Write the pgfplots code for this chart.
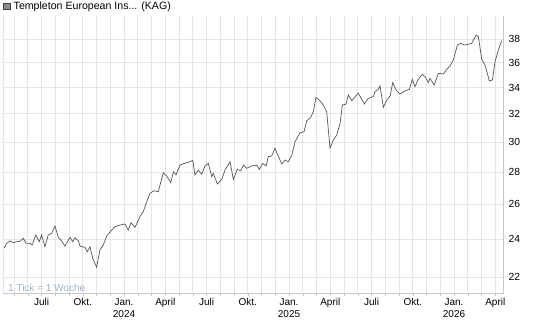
\documentclass[border=0pt]{standalone}
\usepackage{pgfplots}
\pgfplotsset{compat=1.18}
\usepackage{fontspec}
\setmainfont{Liberation Sans}
\definecolor{gridc}{RGB}{230,230,230}
\definecolor{axc}{RGB}{200,200,200}
\definecolor{linec}{RGB}{85,85,85}
\definecolor{notec}{RGB}{160,178,200}
\begin{document}
\fontsize{10bp}{12bp}\selectfont
\begin{tikzpicture}
\begin{axis}[
  name=ax, at={(0,0)}, anchor=south west,
  scale only axis, width=500bp, height=277bp,
  ymode=log, xmin=-8.8, xmax=27.56, ymin=21.21, ymax=40.06,
  axis line style={draw=none},
  xtick={-6,-3,0,3,6,9,12,15,18,21,24,27},
  xticklabels={Juli,Okt.,{Jan.\\2024},April,Juli,Okt.,{Jan.\\2025},April,Juli,Okt.,{Jan.\\2026},April},
  minor xtick={-8,...,27},
  xticklabel style={align=center, font=\fontsize{10bp}{12bp}\selectfont, yshift=1bp},
  xtick pos=left, ytick pos=right,
  tick align=outside,
  major tick length=3bp, minor tick length=3bp,
  every tick/.style={axc},
  ytick={22,24,26,28,30,32,34,36,38},
  yticklabels={22,24,26,28,30,32,34,36,38},
  yticklabel pos=right,
  ytick style={draw=none},
  yticklabel style={anchor=west, xshift=-1bp, font=\fontsize{10.3bp}{12bp}\selectfont},
  xmajorgrids, xminorgrids, ymajorgrids,
  major grid style={gridc, line width=0.8bp},
  minor grid style={gridc, line width=0.8bp},
  clip=false,
]
\addplot[linec, line width=0.7bp] table {
x y
-8.73 23.50
-8.53 23.77
-8.29 23.91
-8.05 23.80
-7.80 23.86
-7.56 23.88
-7.32 24.05
-7.13 23.77
-6.84 23.77
-6.67 23.68
-6.42 24.23
-6.16 23.86
-5.99 24.23
-5.75 23.59
-5.51 24.23
-5.26 24.32
-5.02 24.73
-4.78 24.10
-4.58 23.95
-4.29 23.62
-3.93 24.10
-3.73 23.86
-3.56 24.08
-3.32 23.91
-3.20 23.62
-2.84 23.55
-2.67 23.32
-2.47 23.59
-2.28 22.97
-1.99 22.50
-1.75 23.41
-1.51 23.68
-1.26 24.17
-0.89 24.51
-0.65 24.70
-0.29 24.79
0.07 24.85
0.31 24.51
0.51 24.92
0.80 24.66
1.16 25.27
1.40 25.56
1.65 26.15
1.89 26.66
2.18 26.82
2.49 26.76
2.86 27.95
3.11 27.74
3.40 27.32
3.59 28.02
3.78 27.81
4.07 28.45
4.44 28.58
4.73 28.65
5.00 28.76
5.16 27.81
5.40 28.11
5.65 27.85
5.89 28.39
6.13 28.56
6.38 27.70
6.49 27.92
6.79 27.24
7.11 27.53
7.35 28.13
7.71 28.67
7.95 27.53
8.24 28.17
8.49 28.08
8.68 28.45
8.92 28.24
9.29 28.39
9.65 28.45
9.84 28.17
10.09 28.56
10.33 28.39
10.49 29.00
10.74 29.05
10.98 29.57
11.15 29.18
11.47 28.52
11.71 28.78
11.95 28.67
12.20 29.11
12.44 30.02
12.80 30.64
13.09 30.71
13.29 31.50
13.58 31.75
13.77 32.16
13.96 33.24
14.25 32.98
14.49 32.66
14.74 32.16
14.98 29.57
15.22 30.14
15.47 30.48
15.71 31.31
15.88 32.66
16.15 32.73
16.31 33.42
16.56 32.98
17.04 33.55
17.48 32.73
17.77 33.16
18.13 33.29
18.25 33.67
18.49 33.86
18.62 34.11
18.86 32.49
19.11 33.04
19.35 33.34
19.54 34.38
19.78 33.80
20.07 33.49
20.44 33.73
20.75 33.86
20.97 34.64
21.16 34.06
21.40 34.64
21.69 35.04
21.89 34.85
22.13 34.38
22.25 34.72
22.55 34.19
22.86 35.12
23.22 35.07
23.47 35.45
23.71 35.72
23.95 36.21
24.24 37.48
24.49 37.63
24.73 37.48
25.04 37.54
25.29 37.63
25.60 38.35
25.77 38.21
26.01 36.27
26.25 35.80
26.57 34.51
26.79 34.59
26.98 36.07
27.22 37.05
27.47 37.86
};
\end{axis}
\draw[gridc, line width=0.8bp] (0,0) -- (0,277bp);
\draw[axc, line width=0.8bp] (0,0) -- (500bp,0) -- (500bp,277bp);
\node[anchor=west, inner sep=0pt, text=notec] at (5bp,5bp) {1 Tick = 1 Woche};
\draw[black!75, fill=black!45, line width=0.5bp] (0.5bp,283.5bp) rectangle (7bp,290bp);
\node[anchor=west, inner sep=0pt, font=\fontsize{10.6bp}{12bp}\selectfont] at (10.5bp,286.5bp) {Templeton European Ins... (KAG)};
\pgfresetboundingbox
\useasboundingbox (-3bp,-34bp) rectangle (542bp,293bp);
\end{tikzpicture}
\end{document}
